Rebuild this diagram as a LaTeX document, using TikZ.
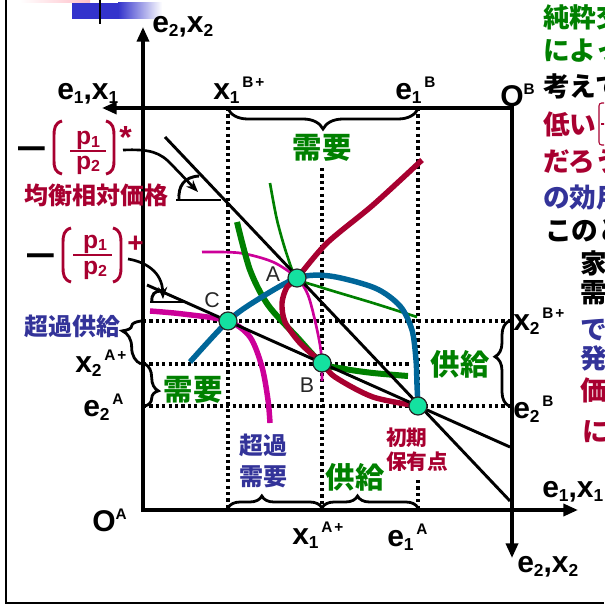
\documentclass[tikz,border=0pt]{standalone}
\usepackage{fontspec}
\setmainfont{Liberation Sans}
\newfontfamily\cjk{Noto Sans CJK JP}
\usetikzlibrary{arrows.meta,decorations.pathreplacing,calc}
\definecolor{dred}{RGB}{168,0,48}
\definecolor{dgreen}{RGB}{0,128,0}
\definecolor{tblue}{RGB}{51,51,153}
\definecolor{cblue}{RGB}{0,102,153}
\definecolor{mag}{RGB}{204,0,153}
\definecolor{ptc}{RGB}{20,225,160}
\definecolor{decblue}{RGB}{51,51,204}
\definecolor{pinkc}{RGB}{255,190,200}
\newcommand\sbx[1]{\raisebox{-3pt}{\fontsize{13}{13}\selectfont #1}}
\newcommand\spx[1]{\raisebox{9pt}{\fontsize{11.5}{11.5}\selectfont #1}}
\newcommand\sbf[1]{\raisebox{-2pt}{\fontsize{12}{12}\selectfont #1}}
\begin{document}
\begin{tikzpicture}[x=0.75pt,y=-0.75pt,
  lab/.style={font=\bfseries\fontsize{22.5}{22.5}\selectfont, inner sep=0pt, anchor=base west},
  cj/.style={font=\cjk\bfseries\fontsize{22}{22}\selectfont, inner sep=0pt},
  cjs/.style={font=\cjk\bfseries\fontsize{18}{23}\selectfont, inner sep=0pt},
  rc/.style={font=\cjk\bfseries\fontsize{20}{20}\selectfont, inner sep=0pt, anchor=west},
  axis/.style={line width=2.6pt},
  dots/.style={line width=2.6pt, dash pattern=on 2.4pt off 2.4pt},
  price/.style={line width=2.2pt},
  thickc/.style={line width=4.1pt},
  thinc/.style={line width=2pt},
  pnt/.style={circle, fill=ptc, draw=black!85, line width=0.9pt, minimum size=13.5pt, inner sep=0pt},
  brc/.style={decorate, line width=2.1pt},
  paren/.style={dred, line width=2.2pt},
  lead/.style={line width=2pt, -{Stealth[length=9pt,width=7pt]}},
  frac/.style={text=dred, font=\bfseries\fontsize{18.5}{18.5}\selectfont, inner sep=0pt, anchor=base},
  ptl/.style={font=\fontsize{16}{16}\selectfont, text=black!85, inner sep=0pt},
]
\useasboundingbox (0,0) rectangle (604,606);

% top-left decoration and frame
\shade[left color=white, right color=pinkc] (20,0) rectangle (90,3);
\fill[decblue] (72,3) rectangle (118,19);
\shade[left color=decblue, right color=white] (118,3) rectangle (162,19);
\draw[line width=2.2pt] (100,0) -- (100,24);
\draw[line width=2.2pt] (6,0) -- (6,603) -- (604,603);

% key coordinates
\coordinate (OA) at (143,510);
\coordinate (OB) at (512,108);
\coordinate (Atop) at (143,27);
\coordinate (Aend) at (578,510);
\coordinate (Bend) at (102,108);
\coordinate (Bbot) at (512,558);
\coordinate (A) at (297,278);
\coordinate (B) at (322,363);
\coordinate (C) at (228,321);
\coordinate (E) at (418,406);
\coordinate (L1a) at (165,137);
\coordinate (L1b) at (510,501);
\coordinate (L2a) at (147,285);
\coordinate (L2b) at (510,447);

% dotted guides
\draw[dots] (228,108) -- (228,510);
\draw[dots] (322,168) -- (322,510);
\draw[dots] (418,108) -- (E);
\draw[dots] (418,480) -- (418,510);
\draw[dots] (143,321) -- (512,321);
\draw[dots] (143,364) -- (410,364);
\draw[dots] (143,406) -- (512,406);

% curves
\draw[thickc, mag] plot[smooth] coordinates {(150,311) (183,314) (C) (250,337) (262,367) (268,400) (270,423)};
\draw[thinc, mag] plot[smooth] coordinates {(202,252) (240,253) (273,262) (A) (308,295) (316,325) (321,352) (322,381)};
\draw[line width=4.5pt, dgreen] plot[smooth] coordinates {(237,222) (250,270) (268,305) (297,337) (B) (345,369) (373,373) (408,376)};
\draw[thinc, dgreen] plot[smooth] coordinates {(270,183) (277,220) (287,255) (A) (320,287) (373,303) (417,317)};
\draw[thickc, cblue] plot[smooth] coordinates {(190,362) (C) (257,300) (A) (330,276) (375,288) (400,306) (412,330) (416,360) (417,385) (E)};
\draw[thickc, dred] plot[smooth] coordinates {(E) (373,397) (335,377) (B) (300,343) (285,322) (282,303) (287,287) (A) (327,243) (373,205) (422,160)};

% price lines
\draw[price] (L1a) -- (L1b);
\draw[price] (L2a) -- (L2b);

% axes
\draw[axis, {Triangle[length=11pt,width=9pt]}-{Triangle[length=11pt,width=9pt]}] (Atop) -- (OA) -- (Aend);
\draw[axis, {Triangle[length=11pt,width=9pt]}-{Triangle[length=11pt,width=9pt]}] (Bend) -- (OB) -- (Bbot);

% angle markers and leaders
\draw[price] (176,200) -- (221,200);
\draw[price] (179,200) .. controls (178,186) and (184,177) .. (199,176);
\draw[price] (150,302) -- (185,302);
\draw[price] (152,302) .. controls (151,294) and (155,291) .. (161,291);
\draw[lead] (123,150) .. controls (150,149) and (160,152) .. (172,165) -- (198,192);
\draw[lead] (128,259) .. controls (146,262) and (162,272) .. (163,299);

% points
\node[pnt] (pA) at (A) {};
\node[pnt] (pB) at (B) {};
\node[pnt] (pC) at (C) {};
\node[pnt] (pE) at (E) {};
\node[ptl] (lA) at (273,274) {A};
\node[ptl] (lB) at (307,385) {B};
\node[ptl] (lC) at (212,300) {C};

% braces
\draw[brc, decoration={brace, mirror, amplitude=15pt, aspect=0.5}] (228,109) -- (418,109);
\draw[brc, decoration={brace, mirror, amplitude=14pt, aspect=0.23}] (141,321) -- (141,364);
\draw[brc, decoration={brace, amplitude=10pt, aspect=0.64}] (145,364) -- (145,406);
\draw[brc, decoration={brace, amplitude=9pt, aspect=0.36}] (228,508) -- (322,508);
\draw[brc, decoration={brace, amplitude=9pt, aspect=0.37}] (322,508) -- (418,508);
\draw[brc, decoration={brace, mirror, amplitude=10.5pt, aspect=0.42}] (509,321) -- (509,406);

% axis labels
\node[lab] (tE2X2) at (152,33) {e\sbx{2},x\sbx{2}};
\node[lab] (tE1X1) at (57,100) {e\sbx{1},x\sbx{1}};
\node[lab] (tX1B) at (213,100) {x\sbx{1}\kern2pt\spx{B\kern1.5pt+}};
\node[lab] (tE1B) at (395,100) {e\sbx{1}\kern2pt\spx{B}};
\node[lab] (tOB) at (500,107) {O\spx{B}};
\node[lab] (tX2B) at (513,330) {x\sbx{2}\kern2pt\spx{B\kern1.5pt+}};
\node[lab] (tE2B) at (513,418) {e\sbx{2}\kern2pt\spx{B}};
\node[lab] (tX2A) at (75,372) {x\sbx{2}\kern2pt\spx{A\kern1.5pt+}};
\node[lab] (tE2A) at (83,416) {e\sbx{2}\kern2pt\spx{A}};
\node[lab] (tOA) at (92,531) {O\spx{A}};
\node[lab] (tX1A) at (292,544) {x\sbx{1}\kern2pt\spx{A\kern1.5pt+}};
\node[lab] (tE1A) at (387,546) {e\sbx{1}\kern2pt\spx{A}};
\node[lab] (tE1X1r) at (542,497) {e\sbx{1},x\sbx{1}};
\node[lab] (tE2X2b) at (517,572) {e\sbx{2},x\sbx{2}};

% price labels
\node[lab, font=\bfseries\fontsize{20}{20}\selectfont] (mi1) at (18,159) {\scalebox{1}[1.5]{—}};
\draw[paren] (62,121) .. controls (55,123) and (54,128) .. (54,136) -- (54,160) .. controls (54,168) and (55,172) .. (62,174);
\draw[paren] (106,121) .. controls (113,123) and (114,128) .. (114,136) -- (114,160) .. controls (114,168) and (113,172) .. (106,174);
\node[frac] (n1) at (88,145) {p\sbf{1}};
\node[frac] (d1) at (88,169) {p\sbf{2}};
\draw[dred, line width=2.2pt] (70,151) -- (106,151);
\node[lab, text=dred, font=\bfseries\fontsize{24}{24}\selectfont] (st1) at (119,148) {*};
\node[cjs, text=dred] (eq) at (96,195) {均衡相対価格};

\node[lab, font=\bfseries\fontsize{20}{20}\selectfont] (mi2) at (27,266) {\scalebox{1}[1.5]{—}};
\draw[paren] (71,228) .. controls (64,230) and (63,235) .. (63,243) -- (63,267) .. controls (63,275) and (64,280) .. (71,282);
\draw[paren] (113,228) .. controls (120,230) and (121,235) .. (121,243) -- (121,267) .. controls (121,275) and (120,280) .. (113,282);
\node[frac] (n2) at (95,248) {p\sbf{1}};
\node[frac] (d2) at (95,274) {p\sbf{2}};
\draw[dred, line width=2.2pt] (73,255) -- (112,255);
\node[lab, text=dred, font=\bfseries\fontsize{21}{21}\selectfont] (pl2) at (127,252) {+};

% CJK labels
\node[cj, text=dgreen] (dTop) at (322,148) {需要};
\node[cj, text=dgreen] (dLeft) at (193,390) {需要};
\node[cj, text=dgreen] (sRight) at (460,364) {供給};
\node[cj, text=dgreen] (sBot) at (355,477) {供給};
\node[cjs, text=tblue] (exS) at (72,326) {超過供給};
\node[cjs, text=tblue, align=center] (exD) at (263,461) {超過\\需要};
\node[font=\cjk\bfseries\fontsize{15.5}{18}\selectfont, text=dred, inner sep=0pt, align=left, anchor=north west] (init) at (386,428) {初期\\保有点};

% right column text (cut by the border, as in the reference)
\begin{scope}
\clip (530,0) rectangle (604,606);
\node[rc, text=dgreen] (r1) at (543,17) {純粋交換};
\node[rc, text=dgreen] (r2) at (543,51) {によって};
\node[rc, text=black] (r3) at (543,86) {考えて};
\node[rc, text=dred] (r4) at (543,124) {低い};
\draw[dred, line width=0.8pt, rounded corners=2pt] (599,103) rectangle (625,145);
\draw[dred, line width=1.5pt] (601,124) -- (610,124);
\node[rc, text=dred] (r5) at (543,162) {だろう};
\node[rc, text=tblue] (r6) at (543,198) {の効用};
\node[rc, text=black] (r7) at (545,230) {このとき};
\node[rc, text=black] (r8) at (580,263) {家計};
\node[rc, text=black] (r9) at (580,293) {需要};
\node[rc, text=tblue] (r10) at (580,330) {で};
\node[rc, text=tblue] (r11) at (580,358) {発};
\node[rc, text=dred] (r12) at (580,390) {価};
\node[rc, text=dred] (r13) at (582,432) {に};
\end{scope}
\end{tikzpicture}
\end{document}
